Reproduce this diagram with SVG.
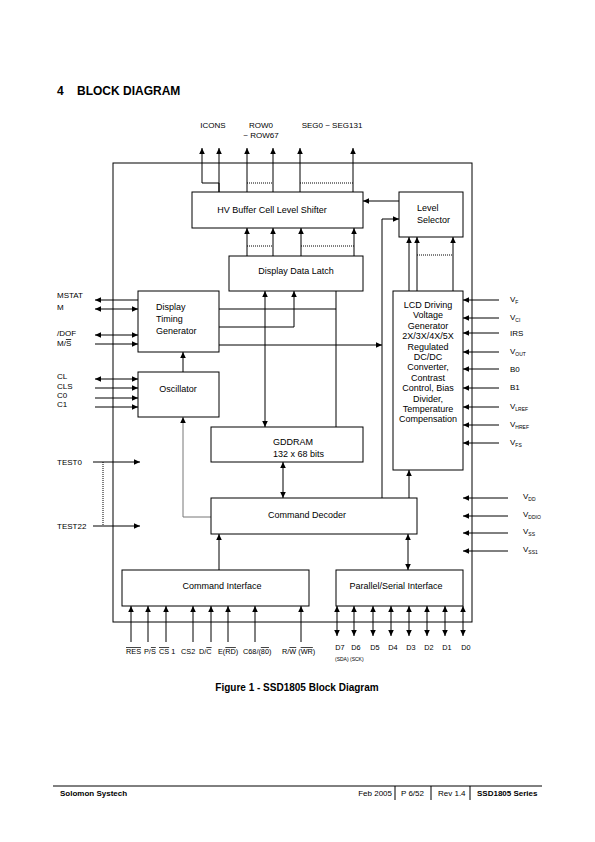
<svg xmlns="http://www.w3.org/2000/svg" width="595" height="842" viewBox="0 0 595 842">
<style>
text{font-family:"Liberation Sans",Arial,sans-serif;fill:#000}
.b{font-size:9px}
.l{font-size:8px}
.p{font-size:7.3px}
.s{font-size:5px}
.box{fill:#fff;stroke:#000;stroke-width:1}
.w{fill:none;stroke:#000;stroke-width:1}
.g{fill:none;stroke:#777;stroke-width:1}
.d{fill:none;stroke:#000;stroke-width:1;stroke-dasharray:1,1}
.e{marker-end:url(#a)}
.st{marker-start:url(#a)}
.o{text-decoration:overline}
</style>
<defs>
<marker id="a" viewBox="0 0 6 6" refX="6" refY="3" markerWidth="6" markerHeight="6" orient="auto-start-reverse" markerUnits="userSpaceOnUse"><path d="M0,0.2 L6,3 L0,5.8 z" fill="#000"/></marker>
</defs>
<rect width="595" height="842" fill="#fff"/>
<text x="57" y="95" style="font-size:12px;font-weight:bold">4</text>
<text x="77" y="95" style="font-size:12px;font-weight:bold">BLOCK DIAGRAM</text>

<g id="frame"><rect x="113" y="163" width="359" height="459" class="w"/></g>

<g id="connectors">
<path class="w e" d="M219,192 V183 H202 V148"/>
<path class="w e" d="M219,192 V148"/>
<path class="w e" d="M247,192 V148"/>
<path class="w e" d="M273,192 V148"/>
<path class="w e" d="M300,192 V148"/>
<path class="w e" d="M353,192 V148"/>
<path class="d" d="M247,183 H273 M300,183 H353"/>
<path class="w e" d="M247,256 V228"/>
<path class="w e" d="M273,256 V228"/>
<path class="w e" d="M301,256 V228"/>
<path class="w e" d="M354,256 V228"/>
<path class="d" d="M247,246 H273 M301,246 H354"/>
<path class="w e" d="M399,201 H363"/>
<path class="w e" d="M382,498 V219 H399"/>
<path class="w e" d="M409,291 V237"/>
<path class="w e" d="M417,291 V237"/>
<path class="w e" d="M453,291 V237"/>
<path class="d" d="M417,255 H453"/>
<path class="w st" d="M95,300 H138"/>
<path class="w st e" d="M95,309 H138"/>
<path class="w st e" d="M95,335 H138"/>
<path class="w e" d="M95,344 H138"/>
<path class="w st e" d="M95,379 H138"/>
<path class="w e" d="M95,388 H138"/>
<path class="w e" d="M95,398 H138"/>
<path class="w e" d="M95,407 H138"/>
<path class="w e" d="M183,372 V352"/>
<path class="w" d="M219,309 H336"/>
<path class="w e" d="M219,327 H294 V291"/>
<path class="w" d="M336,291 V427"/>
<path class="w st e" d="M265,291 V427"/>
<path class="w e" d="M219,345 H382"/>
<path class="w st e" d="M283,462 V498"/>
<path class="g e" d="M211,517 H183 V417"/>
<path class="w e" d="M409,498 V470"/>
<path class="w e" d="M219,570 V534"/>
<path class="w st e" d="M408,534 V570"/>
<path class="w e" d="M93,462 H140"/>
<path class="w e" d="M93,526 H140"/>
<path class="d" d="M103,462 V526"/>
<path class="w e" d="M499,300 H463"/>
<path class="w e" d="M499,318 H463"/>
<path class="w e" d="M499,333 H463"/>
<path class="w e" d="M499,352 H463"/>
<path class="w e" d="M499,369 H463"/>
<path class="w e" d="M499,388 H463"/>
<path class="w e" d="M499,407 H463"/>
<path class="w e" d="M499,425 H463"/>
<path class="w e" d="M499,443 H463"/>
<path class="w e" d="M508,498 H463"/>
<path class="w e" d="M508,516 H463"/>
<path class="w e" d="M508,533 H463"/>
<path class="w e" d="M508,551 H463"/>
<path class="w e" d="M131,642 V606"/>
<path class="w e" d="M148,642 V606"/>
<path class="w e" d="M166,642 V606"/>
<path class="w e" d="M193,642 V606"/>
<path class="w e" d="M211,642 V606"/>
<path class="w e" d="M228,642 V606"/>
<path class="w e" d="M255,642 V606"/>
<path class="w e" d="M301,642 V606"/>
<path class="w st e" d="M337,606 V636"/>
<path class="w st e" d="M354,606 V636"/>
<path class="w st e" d="M373,606 V636"/>
<path class="w st e" d="M391,606 V636"/>
<path class="w st e" d="M409,606 V636"/>
<path class="w st e" d="M427,606 V636"/>
<path class="w st e" d="M445,606 V636"/>
<path class="w st e" d="M463,606 V636"/>
</g>

<g id="hv"><rect x="192" y="192" width="171" height="36" class="box"/><text class="b" x="272" y="213" text-anchor="middle">HV Buffer Cell Level Shifter</text></g>
<g id="levelsel"><rect x="399" y="192" width="64" height="45" class="box"/><text class="b" x="417" y="211">Level</text><text class="b" x="417" y="223">Selector</text></g>
<g id="ddl"><rect x="229" y="256" width="134" height="35" class="box"/><text class="b" x="296" y="274" text-anchor="middle">Display Data Latch</text></g>
<g id="dtg"><rect x="138" y="291" width="81" height="61" class="box"/><text class="b" x="156" y="310">Display</text><text class="b" x="156" y="322">Timing</text><text class="b" x="156" y="334">Generator</text></g>
<g id="osc"><rect x="138" y="372" width="81" height="45" class="box"/><text class="b" x="178" y="392" text-anchor="middle">Oscillator</text></g>
<g id="lcd"><rect x="393" y="291" width="70" height="179" class="box"/>
<text class="b" text-anchor="middle" x="428">
<tspan x="428" y="308">LCD Driving</tspan><tspan x="428" y="318.4">Voltage</tspan><tspan x="428" y="328.8">Generator</tspan><tspan x="428" y="339.2">2X/3X/4X/5X</tspan><tspan x="428" y="349.6">Regulated</tspan><tspan x="428" y="360">DC/DC</tspan><tspan x="428" y="370.4">Converter,</tspan><tspan x="428" y="380.8">Contrast</tspan><tspan x="428" y="391.2">Control, Bias</tspan><tspan x="428" y="401.6">Divider,</tspan><tspan x="428" y="412">Temperature</tspan><tspan x="428" y="422.4">Compensation</tspan></text></g>
<g id="gddram"><rect x="211" y="427" width="152" height="35" class="box"/><text class="b" x="273" y="445">GDDRAM</text><text class="b" x="273" y="457">132 x 68 bits</text></g>
<g id="cmddec"><rect x="211" y="498" width="206" height="36" class="box"/><text class="b" x="307" y="518" text-anchor="middle">Command Decoder</text></g>
<g id="cmdif"><rect x="122" y="570" width="187" height="36" class="box"/><text class="b" x="222" y="589" text-anchor="middle">Command Interface</text></g>
<g id="psif"><rect x="336" y="570" width="127" height="36" class="box"/><text class="b" x="396" y="589" text-anchor="middle">Parallel/Serial Interface</text></g>

<g id="labels">
<text class="l" x="213" y="128" text-anchor="middle">ICONS</text>
<text class="l" x="261" y="128" text-anchor="middle">ROW0</text>
<text class="l" x="261" y="138" text-anchor="middle">~ ROW67</text>
<text class="l" x="332" y="128" text-anchor="middle">SEG0 ~ SEG131</text>
<text class="l" x="57" y="298">MSTAT</text>
<text class="l" x="57" y="310">M</text>
<text class="l" x="57" y="336">/DOF</text>
<text class="l" x="57" y="346">M/<tspan class="o">S</tspan></text>
<text class="l" x="57" y="379">CL</text>
<text class="l" x="57" y="389">CLS</text>
<text class="l" x="57" y="398">C0</text>
<text class="l" x="57" y="407">C1</text>
<text class="l" x="57" y="465">TEST0</text>
<text class="l" x="57" y="529">TEST22</text>
<text class="l" x="510" y="302">V<tspan class="s" dy="1.5">F</tspan></text>
<text class="l" x="510" y="320">V<tspan class="s" dy="1.5">CI</tspan></text>
<text class="l" x="510" y="336">IRS</text>
<text class="l" x="510" y="354">V<tspan class="s" dy="1.5">OUT</tspan></text>
<text class="l" x="510" y="372">B0</text>
<text class="l" x="510" y="390">B1</text>
<text class="l" x="510" y="409">V<tspan class="s" dy="1.5">LREF</tspan></text>
<text class="l" x="510" y="427">V<tspan class="s" dy="1.5">HREF</tspan></text>
<text class="l" x="510" y="445">V<tspan class="s" dy="1.5">FS</tspan></text>
<text class="l" x="523" y="499">V<tspan class="s" dy="1.5">DD</tspan></text>
<text class="l" x="523" y="517">V<tspan class="s" dy="1.5">DDIO</tspan></text>
<text class="l" x="523" y="534">V<tspan class="s" dy="1.5">SS</tspan></text>
<text class="l" x="523" y="552">V<tspan class="s" dy="1.5">SS1</tspan></text>
<text class="p" x="126" y="654"><tspan class="o">RES</tspan></text>
<text class="p" x="144" y="654">P/<tspan class="o">S</tspan></text>
<text class="p" x="159" y="654"><tspan class="o">CS</tspan> 1</text>
<text class="p" x="181" y="654">CS2</text>
<text class="p" x="199" y="654">D/<tspan class="o">C</tspan></text>
<text class="p" x="218" y="654">E(<tspan class="o">RD</tspan>)</text>
<text class="p" x="243" y="654">C68/(<tspan class="o">80</tspan>)</text>
<text class="p" x="282" y="654">R/<tspan class="o">W</tspan> (<tspan class="o">WR</tspan>)</text>
<text class="p" x="340" y="650" text-anchor="middle">D7</text>
<text class="p" x="356" y="650" text-anchor="middle">D6</text>
<text class="p" x="375" y="650" text-anchor="middle">D5</text>
<text class="p" x="393" y="650" text-anchor="middle">D4</text>
<text class="p" x="411" y="650" text-anchor="middle">D3</text>
<text class="p" x="429" y="650" text-anchor="middle">D2</text>
<text class="p" x="447" y="650" text-anchor="middle">D1</text>
<text class="p" x="466" y="650" text-anchor="middle">D0</text>
<text class="s" x="335" y="661">(SDA) (SCK)</text>
</g>

<text x="297" y="691" text-anchor="middle" style="font-size:10px;font-weight:bold">Figure 1 - SSD1805 Block Diagram</text>

<g id="footer">
<path class="w" d="M53,786 H542 M395,786 V800 M431,786 V800 M470,786 V800"/>
<text x="60" y="796" style="font-size:8px;font-weight:bold">Solomon Systech</text>
<text x="392" y="796" text-anchor="end" style="font-size:8px">Feb 2005</text>
<text x="401" y="796" style="font-size:8px">P 6/52</text>
<text x="438" y="796" style="font-size:8px">Rev 1.4</text>
<text x="477" y="796" style="font-size:8px;font-weight:bold">SSD1805 Series</text>
</g>
</svg>
